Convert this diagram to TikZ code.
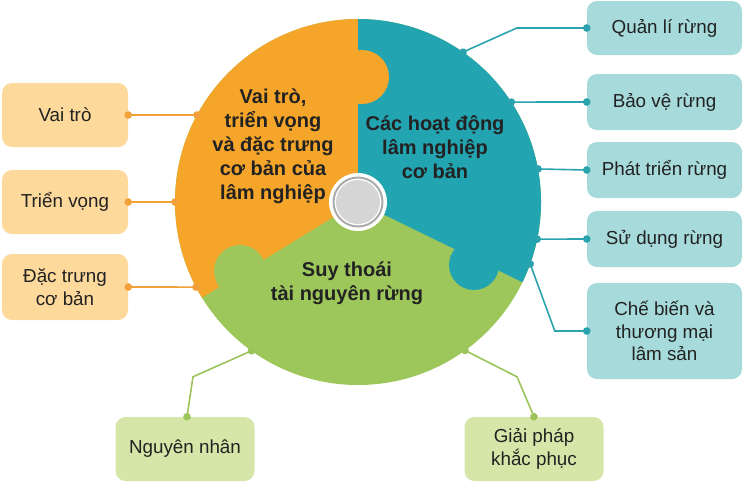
\documentclass[tikz,border=0pt]{standalone}
\usepackage{fontspec}
\setmainfont{Liberation Sans}
\usetikzlibrary{arrows.meta}
\definecolor{orangemain}{HTML}{F6A52B}
\definecolor{orangebox}{HTML}{FDD99B}
\definecolor{orangeline}{HTML}{F2A03A}
\definecolor{tealmain}{HTML}{22A4B1}
\definecolor{tealbox}{HTML}{A7DADB}
\definecolor{tealline}{HTML}{2BA3AF}
\definecolor{greenmain}{HTML}{9DC75B}
\definecolor{greenbox}{HTML}{D6E6A8}
\definecolor{greenline}{HTML}{9CC45A}
\definecolor{textdark}{HTML}{222222}
\definecolor{hubring}{HTML}{ABABAB}
\definecolor{hubfill}{HTML}{D5D5D5}
\newcommand{\boxfont}{\fontsize{18.8}{22.5}\selectfont}
\newcommand{\wheelfont}{\bfseries\fontsize{20}{24}\selectfont}
\tikzset{
% Boxes round the wheel and the lines that tie them to it
leaf box/.style={rounded corners=10pt,inner sep=0pt,align=center,font=\boxfont,text=textdark},
orange box/.style={leaf box,fill=orangebox,minimum width=126pt},
teal box/.style={leaf box,fill=tealbox,minimum width=155pt},
green box/.style={leaf box,fill=greenbox,minimum width=139pt,minimum height=64pt},
wheel text/.style={align=center,font=\wheelfont,text=textdark},
link/.style={line width=1.6pt,{Circle[length=7.5pt]}-{Circle[length=7.5pt]},shorten <=-3.7pt,shorten >=-3.7pt}
}

\begin{document}
\begin{tikzpicture}[x=1pt,y=1pt]
\useasboundingbox (0,0) rectangle (744,-483);
% The wheel
\coordinate (C) at (358,-202);
\fill[greenmain] (C) circle (183);
\fill[orangemain] (C) -- ++(90:183) arc[start angle=90,end angle=211.5,radius=183] -- cycle;
\fill[tealmain] (C) -- ++(-26:183) arc[start angle=-26,end angle=90,radius=183] -- cycle;
% puzzle knobs
\fill[orangemain] (362,-77) circle (27);
\fill[greenmain] (240,-271) circle (26);
\fill[tealmain] (474,-265) circle (25);
% hub
\fill[white] (C) circle (29);
\draw[hubring,line width=2pt] (C) circle (24.5);
\fill[hubfill] (C) circle (22);
% Texts on the pieces
\node[wheel text] (orangeText) at (273,-146) {Vai trò,\\triển vọng\\và đặc trưng\\cơ bản của\\lâm nghiệp};
\node[wheel text] (tealText) at (435,-147) {Các hoạt động\\lâm nghiệp\\cơ bản};
\node[wheel text] (greenText) at (347,-283) {Suy thoái\\tài nguyên rừng};
% Points on the rim
\coordinate (o1) at ([shift={(151.6:183)}]C);
\coordinate (o2) at ([shift={(180:183)}]C);
\coordinate (o3) at ([shift={(207.7:183)}]C);
\coordinate (t1) at ([shift={(55:183)}]C);
\coordinate (t2) at ([shift={(33.1:183)}]C);
\coordinate (t3) at ([shift={(10.4:183)}]C);
\coordinate (t4) at ([shift={(-11.7:183)}]C);
\coordinate (t5) at ([shift={(-19.8:183)}]C);
\coordinate (g1) at ([shift={(234.4:183)}]C);
\coordinate (g2) at ([shift={(305.8:183)}]C);
% Left boxes
\node[orange box,minimum height=64pt] (vaitro) at (65,-115) {Vai trò};
\node[orange box,minimum height=64pt] (trienvong) at (65,-202) {Triển vọng};
\node[orange box,minimum height=66pt] (dactrung) at (65,-287) {Đặc trưng\\cơ bản};
% Right boxes
\node[teal box,minimum height=54pt] (quanli) at (664.5,-28) {Quản lí rừng};
\node[teal box,minimum height=56pt] (baove) at (664.5,-102) {Bảo vệ rừng};
\node[teal box,minimum height=56pt] (phattrien) at (664.5,-170) {Phát triển rừng};
\node[teal box,minimum height=56pt] (sudung) at (664.5,-239) {Sử dụng rừng};
\node[teal box,minimum height=96pt] (chebien) at (664.5,-331) {Chế biến và\\thương mại\\lâm sản};
% Bottom boxes
\node[green box] (nguyennhan) at (185,-449) {Nguyên nhân};
\node[green box] (giaiphap) at (534,-449) {Giải pháp\\khắc phục};
% Links
\draw[link,orangeline] (vaitro.east) -- (o1);
\draw[link,orangeline] (trienvong.east) -- (o2);
\draw[link,orangeline] (dactrung.east) -- (o3);
\draw[link,tealline] (quanli.west) -- ++(-70,0) -- (t1);
\draw[link,tealline] (baove.west) -- (t2);
\draw[link,tealline] (phattrien.west) -- (t3);
\draw[link,tealline] (sudung.west) -- (t4);
\draw[link,tealline] (chebien.west) -- ++(-32,0) -- (t5);
\draw[link,greenline] ([xshift=2pt]nguyennhan.north) -- ++(6,40) -- (g1);
\draw[link,greenline] (giaiphap.north) -- ++(-17,40) -- (g2);
\end{tikzpicture}
\end{document}
